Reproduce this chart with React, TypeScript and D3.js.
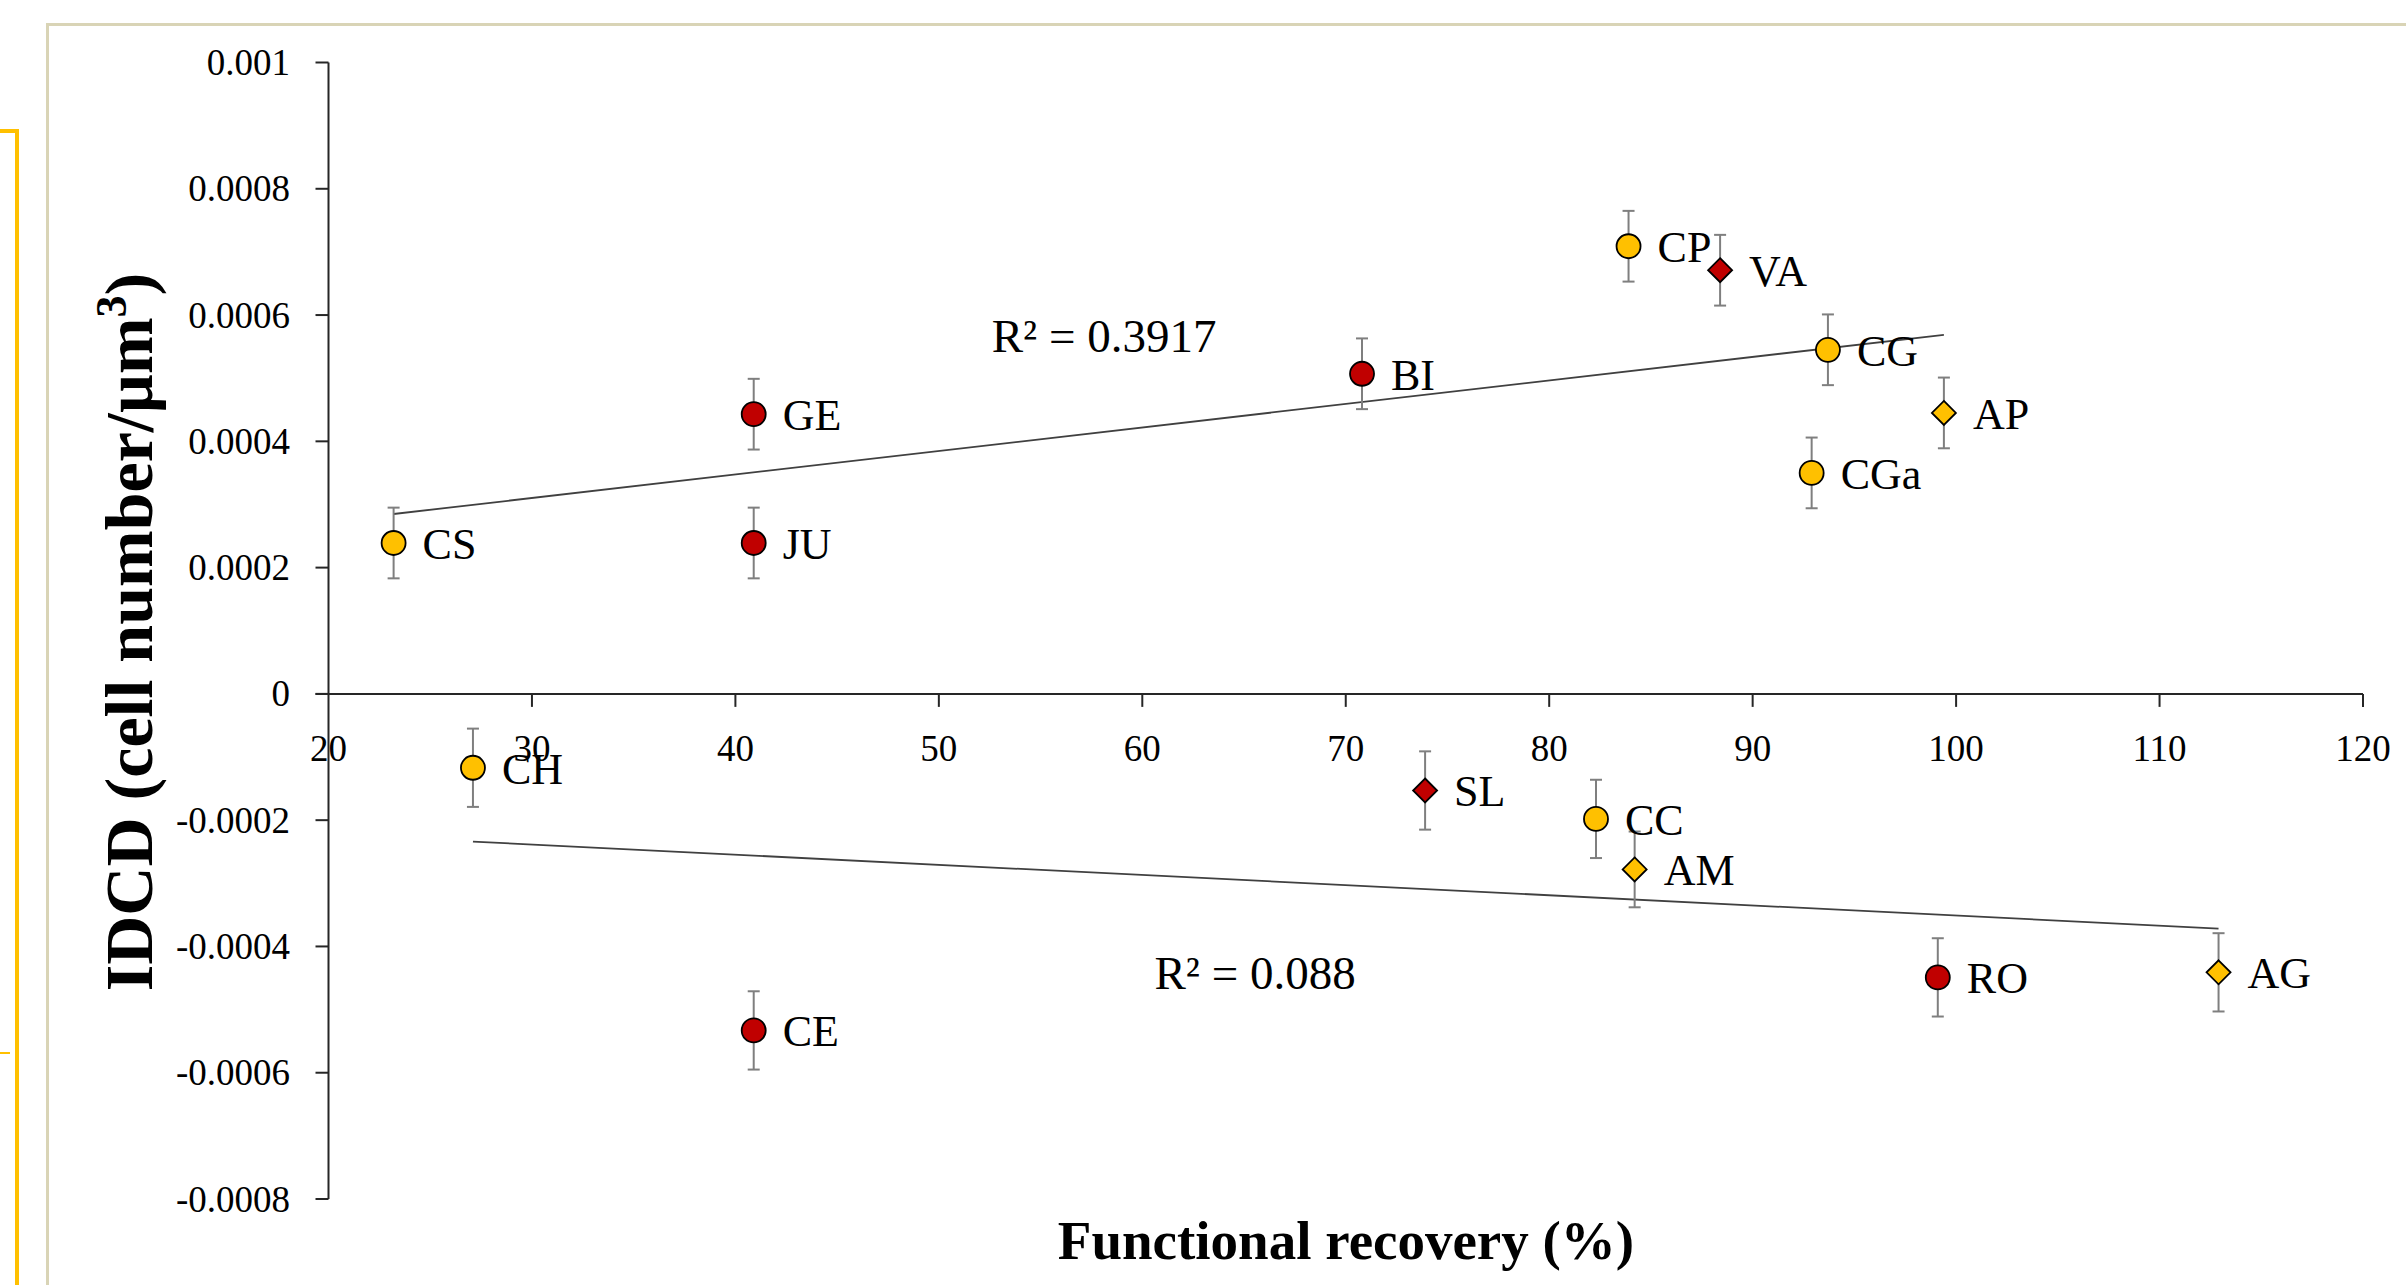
import React, { useEffect, useRef } from 'react';
import * as d3 from 'd3';

// sample codes and their values
const codes = ['CS', 'GE', 'JU', 'BI', 'CP', 'VA', 'CG', 'AP', 'CGa', 'CH', 'SL', 'CC', 'AM', 'RO', 'AG', 'CE'];
const recovery = [23.2, 40.9, 40.9, 70.8, 83.9, 88.4, 93.7, 99.4, 92.9, 27.1, 73.9, 82.3, 84.2, 99.1, 112.9, 40.9];
const idcd = [
  0.000239, 0.000443, 0.000239, 0.000507, 0.000709, 0.000671, 0.000545, 0.000445, 0.00035,
  -0.000117, -0.000153, -0.000198, -0.000278, -0.000449, -0.000441, -0.000533,
];
const idcdError = [
  0.000056, 0.000056, 0.000056, 0.000056, 0.000056, 0.000056, 0.000056, 0.000056, 0.000056,
  0.000062, 0.000062, 0.000062, 0.00006, 0.000062, 0.000062, 0.000062,
];
const colorGroup = ['Y', 'R', 'R', 'R', 'Y', 'R', 'Y', 'Y', 'Y', 'Y', 'R', 'Y', 'Y', 'R', 'Y', 'R'];
const markerShape = ['o', 'o', 'o', 'o', 'o', 'd', 'o', 'd', 'o', 'o', 'd', 'o', 'd', 'o', 'd', 'o'];
const trendGroup = [1, 1, 1, 1, 1, 1, 1, 1, 1, 2, 2, 2, 2, 2, 2, 2];

const xTicks = [20, 30, 40, 50, 60, 70, 80, 90, 100, 110, 120];
const yTicks = [0.001, 0.0008, 0.0006, 0.0004, 0.0002, 0, -0.0002, -0.0004, -0.0006, -0.0008];
const r2Labels = ['R² = 0.3917', 'R² = 0.088'];

const FONT = '"Palatino Linotype", "Book Antiqua", Palatino, "Liberation Serif", serif';

// ordinary least squares, drawn between the group's min and max x
const fitLine = (xs: number[], ys: number[]) => {
  const mx = d3.mean(xs) as number;
  const my = d3.mean(ys) as number;
  let sxy = 0;
  let sxx = 0;
  xs.forEach((x, i) => {
    sxy += (x - mx) * (ys[i] - my);
    sxx += (x - mx) * (x - mx);
  });
  const slope = sxy / sxx;
  const intercept = my - slope * mx;
  const x0 = d3.min(xs) as number;
  const x1 = d3.max(xs) as number;
  return [
    [x0, intercept + slope * x0],
    [x1, intercept + slope * x1],
  ];
};

const App = () => {
  const svgRef = useRef<SVGSVGElement>(null);

  useEffect(() => {
    if (!svgRef.current) return;
    const svg = d3.select(svgRef.current);
    svg.selectAll('*').remove();

    const width = 2406;
    const height = 1285;

    svg.append('rect').attr('width', width).attr('height', height).attr('fill', '#fff');

    // page decorations around the chart
    svg.append('path')
      .attr('d', 'M0,131 H17 V1285')
      .attr('fill', 'none')
      .attr('stroke', '#ffc000')
      .attr('stroke-width', 4);
    svg.append('line')
      .attr('x1', 0).attr('x2', 10).attr('y1', 1053).attr('y2', 1053)
      .attr('stroke', '#ffc000').attr('stroke-width', 2);
    svg.append('path')
      .attr('d', 'M47.5,1285 V24.5 H2406')
      .attr('fill', 'none')
      .attr('stroke', '#d9d4b6')
      .attr('stroke-width', 3);

    const x = d3.scaleLinear().domain([20, 120]).range([328.5, 2363]);
    const y = d3.scaleLinear().domain([-0.0008, 0.001]).range([1199, 62.5]);

    const g = svg.append('g').style('font-family', FONT);

    // y axis
    const yAxis = g.append('g');
    yAxis.append('line')
      .attr('x1', x(20)).attr('x2', x(20))
      .attr('y1', y(0.001)).attr('y2', y(-0.0008))
      .attr('stroke', '#262626').attr('stroke-width', 2);
    yAxis.selectAll('line.tick')
      .data(yTicks)
      .enter()
      .append('line')
      .attr('class', 'tick')
      .attr('x1', x(20) - 13).attr('x2', x(20))
      .attr('y1', d => y(d)).attr('y2', d => y(d))
      .attr('stroke', '#262626').attr('stroke-width', 2);
    yAxis.selectAll('text')
      .data(yTicks)
      .enter()
      .append('text')
      .attr('x', 290)
      .attr('y', d => y(d) + 12.5)
      .attr('text-anchor', 'end')
      .attr('font-size', 37)
      .attr('fill', '#000')
      .text(d => String(+d.toFixed(4)));

    // x axis, crossing at zero
    const xAxis = g.append('g');
    xAxis.append('line')
      .attr('x1', x(20) - 13).attr('x2', x(120))
      .attr('y1', y(0)).attr('y2', y(0))
      .attr('stroke', '#262626').attr('stroke-width', 2);
    xAxis.selectAll('line.tick')
      .data(xTicks.slice(1))
      .enter()
      .append('line')
      .attr('class', 'tick')
      .attr('x1', d => x(d)).attr('x2', d => x(d))
      .attr('y1', y(0)).attr('y2', y(0) + 13)
      .attr('stroke', '#262626').attr('stroke-width', 2);
    xAxis.selectAll('text')
      .data(xTicks)
      .enter()
      .append('text')
      .attr('x', d => x(d))
      .attr('y', 761)
      .attr('text-anchor', 'middle')
      .attr('font-size', 37)
      .attr('fill', '#000')
      .text(d => d);

    // trend lines
    [1, 2].forEach(grp => {
      const idx = d3.range(codes.length).filter(i => trendGroup[i] === grp);
      const pts = fitLine(idx.map(i => recovery[i]), idx.map(i => idcd[i]));
      g.append('line')
        .attr('x1', x(pts[0][0])).attr('y1', y(pts[0][1]))
        .attr('x2', x(pts[1][0])).attr('y2', y(pts[1][1]))
        .attr('stroke', '#404040')
        .attr('stroke-width', 1.8);
    });

    // R² labels
    const r2Pos = [[52.6, 0.000541], [60.6, -0.000467]];
    r2Labels.forEach((t, i) => {
      g.append('text')
        .attr('x', x(r2Pos[i][0]))
        .attr('y', y(r2Pos[i][1]))
        .attr('font-size', 47)
        .attr('fill', '#000')
        .text(t);
    });

    const idx = d3.range(codes.length);

    // error bars
    const err = g.append('g').attr('stroke', '#7f7f7f').attr('stroke-width', 2);
    idx.forEach(i => {
      const cx = x(recovery[i]);
      const top = y(idcd[i] + idcdError[i]);
      const bot = y(idcd[i] - idcdError[i]);
      err.append('line').attr('x1', cx).attr('x2', cx).attr('y1', top).attr('y2', bot);
      err.append('line').attr('x1', cx - 6).attr('x2', cx + 6).attr('y1', top).attr('y2', top);
      err.append('line').attr('x1', cx - 6).attr('x2', cx + 6).attr('y1', bot).attr('y2', bot);
    });

    // markers
    const fill = (c: string) => (c === 'R' ? '#c00000' : '#ffc000');
    idx.forEach(i => {
      const cx = x(recovery[i]);
      const cy = y(idcd[i]);
      if (markerShape[i] === 'o') {
        g.append('circle')
          .attr('cx', cx).attr('cy', cy).attr('r', 12)
          .attr('fill', fill(colorGroup[i]))
          .attr('stroke', '#000').attr('stroke-width', 1.8);
      } else {
        g.append('path')
          .attr('d', `M${cx},${cy - 12} L${cx + 12},${cy} L${cx},${cy + 12} L${cx - 12},${cy} Z`)
          .attr('fill', fill(colorGroup[i]))
          .attr('stroke', '#000').attr('stroke-width', 1.8);
      }
      g.append('text')
        .attr('x', cx + 29)
        .attr('y', cy + 16)
        .attr('font-size', 44)
        .attr('fill', '#000')
        .text(codes[i]);
    });

    // axis titles
    g.append('text')
      .attr('x', 1346)
      .attr('y', 1259)
      .attr('text-anchor', 'middle')
      .attr('font-size', 55)
      .attr('font-weight', 'bold')
      .attr('fill', '#000')
      .text('Functional recovery (%)');

    const yTitle = g.append('text')
      .attr('transform', 'translate(152,632) rotate(-90)')
      .attr('text-anchor', 'middle')
      .attr('font-size', 68)
      .attr('font-weight', 'bold')
      .attr('fill', '#000');
    yTitle.append('tspan').text('IDCD (cell number/µm');
    yTitle.append('tspan').attr('font-size', 44).attr('dy', -26).text('3');
    yTitle.append('tspan').attr('dy', 26).text(')');
  }, []);

  return (
    <div style={{ position: 'absolute', left: 0, top: 0 }}>
      <svg ref={svgRef} width={2406} height={1285} style={{ display: 'block' }} />
    </div>
  );
};

export default App;
